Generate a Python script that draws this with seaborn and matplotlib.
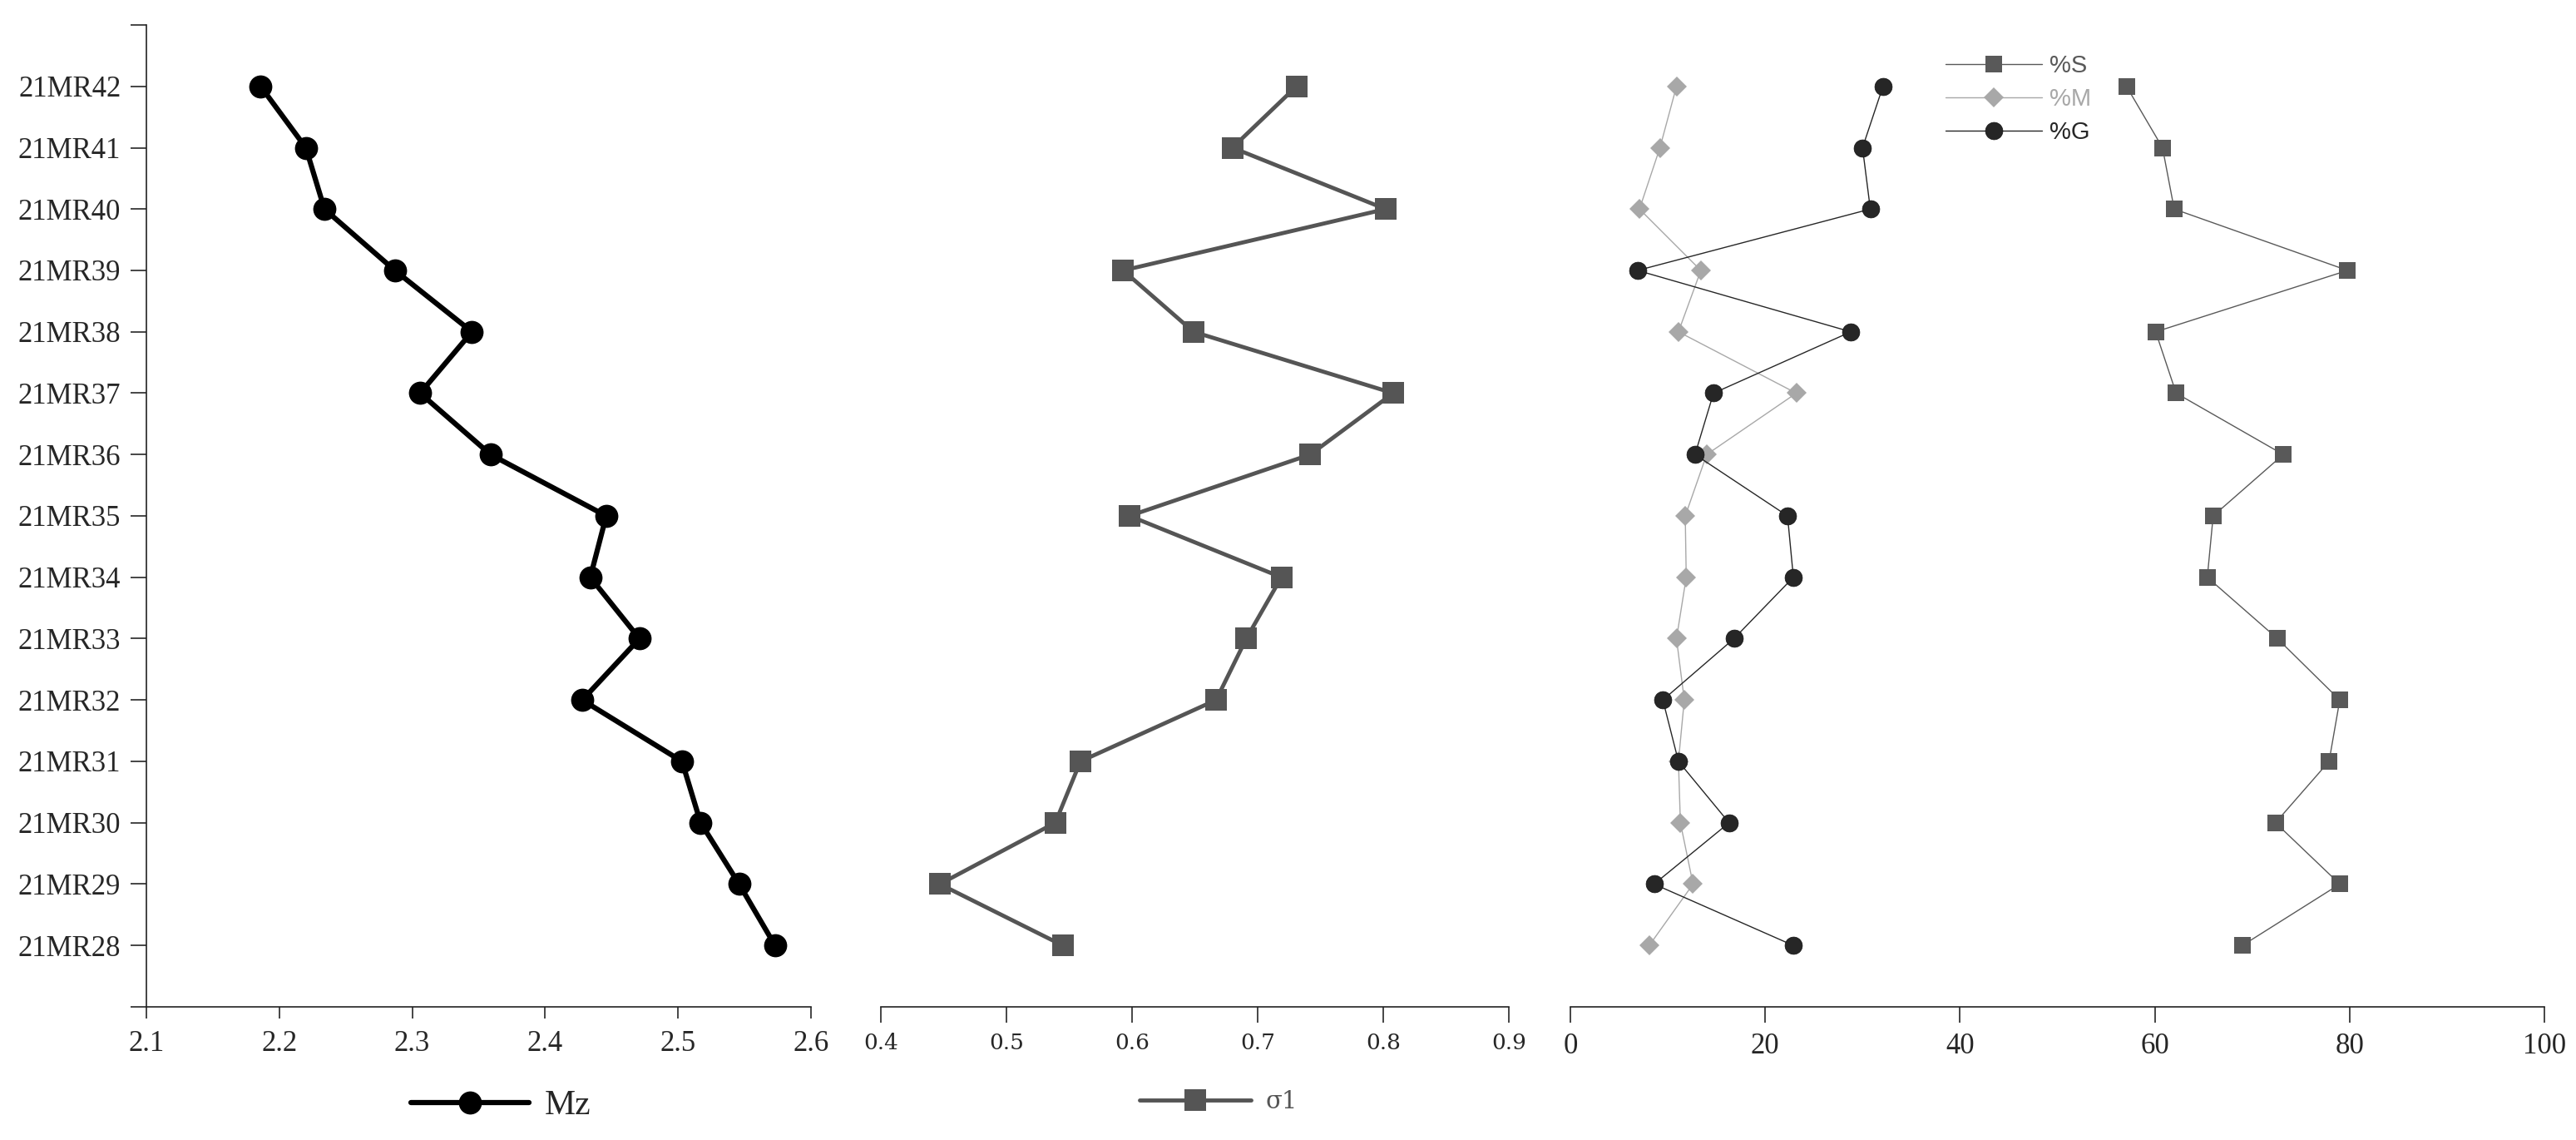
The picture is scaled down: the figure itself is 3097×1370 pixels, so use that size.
import numpy as np
import pandas as pd
import matplotlib
matplotlib.use('Agg')
import matplotlib.pyplot as plt
import seaborn as sns

# samples listed top to bottom
samples = ['21MR42', '21MR41', '21MR40', '21MR39', '21MR38', '21MR37', '21MR36', '21MR35',
           '21MR34', '21MR33', '21MR32', '21MR31', '21MR30', '21MR29', '21MR28']

mz = [2.186, 2.220, 2.234, 2.287, 2.345, 2.306, 2.359, 2.446,
      2.434, 2.471, 2.428, 2.503, 2.517, 2.546, 2.573]

sigma1 = [0.731, 0.680, 0.802, 0.593, 0.649, 0.808, 0.742, 0.598,
          0.719, 0.691, 0.667, 0.559, 0.539, 0.447, 0.545]

pct_s = [57.1, 60.8, 62.0, 79.8, 60.1, 62.2, 73.2, 66.0,
         65.4, 72.6, 79.0, 77.9, 72.4, 79.0, 69.0]
pct_m = [10.9, 9.2, 7.1, 13.4, 11.1, 23.2, 14.0, 11.8,
         11.9, 10.9, 11.7, 11.1, 11.3, 12.6, 8.1]
pct_g = [32.1, 30.0, 30.8, 6.9, 28.8, 14.7, 12.8, 22.3,
         22.9, 16.8, 9.5, 11.1, 16.3, 8.6, 22.9]

mz_ticks = [2.1, 2.2, 2.3, 2.4, 2.5, 2.6]
sigma_ticks = [0.4, 0.5, 0.6, 0.7, 0.8, 0.9]
pct_ticks = [0, 20, 40, 60, 80, 100]

df = pd.DataFrame({
    'sample': samples,
    'pos': np.arange(len(samples))[::-1],
    'Mz': mz, 'sigma': sigma1,
    'S': pct_s, 'M': pct_m, 'G': pct_g,
})

sns.set_style('ticks')
plt.rcParams['font.family'] = ['Liberation Serif', 'DejaVu Serif']
plt.rcParams['axes.linewidth'] = 1.2
plt.rcParams['axes.edgecolor'] = '#222222'

fig = plt.figure(figsize=(30.97, 13.70), dpi=100)
bottom, height = 0.1168, 0.8613
ax1 = fig.add_axes([0.0568, bottom, 0.258, height])
ax2 = fig.add_axes([0.3419, bottom, 0.2438, height])
ax3 = fig.add_axes([0.6096, bottom, 0.3781, height])

n = len(samples)

# --- Mz panel
sns.lineplot(data=df, x='Mz', y='pos', sort=False, estimator=None, ax=ax1,
             color='black', lw=4.5, marker='o', markersize=20,
             markeredgecolor='black', markeredgewidth=0, label='Mz')
ax1.set_xlim(2.1, 2.6)
ax1.set_ylim(-1, n)
ax1.set_yticks(np.arange(-1, n + 1))
ax1.set_yticklabels([''] + samples[::-1] + [''])
ax1.set_xticks(mz_ticks)
ax1.set_xticklabels([f'{t:.1f}' for t in mz_ticks])
ax1.tick_params(axis='y', length=14, width=1.2, pad=8, labelsize=25)
ax1.tick_params(axis='x', length=10, width=1.2, pad=10, labelsize=25)
for s in ['top', 'right']:
    ax1.spines[s].set_visible(False)
ax1.set_xlabel('')
ax1.set_ylabel('')
ax1.legend(loc='center left', bbox_to_anchor=(0.398, -0.101), frameon=False,
           borderpad=0, borderaxespad=0, handlelength=3.4, handletextpad=0.45,
           fontsize=30)

# --- sigma panel
sns.lineplot(data=df, x='sigma', y='pos', sort=False, estimator=None, ax=ax2,
             color='#555555', lw=3.5, marker='s', markersize=19,
             markeredgecolor='#555555', markeredgewidth=0, label='σ1')
ax2.set_xlim(0.4, 0.9)
ax2.set_ylim(-1, n)
ax2.set_yticks([])
ax2.set_xticks(sigma_ticks)
ax2.set_xticklabels([f'{t:.1f}' for t in sigma_ticks], family='DejaVu Serif')
ax2.tick_params(axis='x', length=14, width=1.2, pad=8, labelsize=19)
for s in ['top', 'right', 'left']:
    ax2.spines[s].set_visible(False)
ax2.set_xlabel('')
ax2.set_ylabel('')
leg2 = ax2.legend(loc='center left', bbox_to_anchor=(0.412, -0.097), frameon=False,
                  borderpad=0, borderaxespad=0, handlelength=4.6, handletextpad=0.6,
                  prop={'family': 'DejaVu Serif', 'size': 21})
for t in leg2.get_texts():
    t.set_color('#555555')

# --- grain size percentages panel
sns.lineplot(data=df, x='S', y='pos', sort=False, estimator=None, ax=ax3,
             color='#595959', lw=1.0, marker='s', markersize=15,
             markeredgecolor='#595959', markeredgewidth=0, label='%S')
sns.lineplot(data=df, x='M', y='pos', sort=False, estimator=None, ax=ax3,
             color='#a8a8a8', lw=1.0, marker='D', markersize=12,
             markeredgecolor='#a8a8a8', markeredgewidth=0, label='%M')
sns.lineplot(data=df, x='G', y='pos', sort=False, estimator=None, ax=ax3,
             color='#262626', lw=1.0, marker='o', markersize=15,
             markeredgecolor='#111111', markeredgewidth=0.5, label='%G')
ax3.set_xlim(0, 100)
ax3.set_ylim(-1, n)
ax3.set_yticks([])
ax3.set_xticks(pct_ticks)
ax3.set_xticklabels([str(t) for t in pct_ticks])
ax3.tick_params(axis='x', length=14, width=1.2, pad=8, labelsize=25)
for s in ['top', 'right', 'left']:
    ax3.spines[s].set_visible(False)
ax3.set_xlabel('')
ax3.set_ylabel('')
ax3.legend(loc='upper left', bbox_to_anchor=(0.385, 0.970), frameon=False,
           borderpad=0, borderaxespad=0, handlelength=4, handletextpad=0.3,
           labelspacing=0.4, labelcolor='linecolor',
           prop={'family': 'Liberation Sans', 'size': 21})

fig.savefig('out.png', dpi=100)
